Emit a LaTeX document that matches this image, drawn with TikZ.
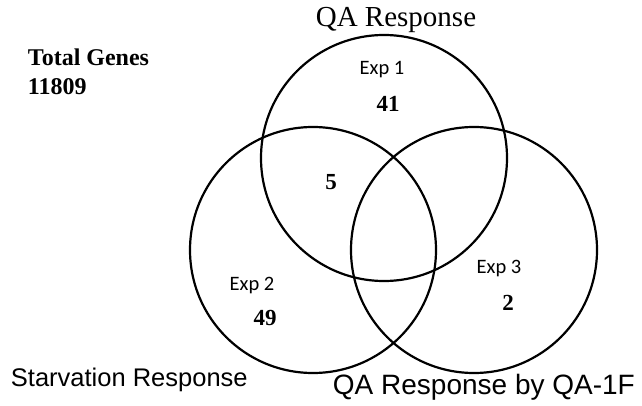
\documentclass[tikz,border=0pt]{standalone}
\usepackage{fontspec}
\setmainfont{Liberation Serif}
\setsansfont{Liberation Sans}
\newfontfamily\expfont{Carlito}
\usepackage{tikz}

\tikzset{
  venn/.style={draw=black, line width=2.2pt},
  count/.style={inner sep=0.75pt, font=\fontsize{23}{25}\selectfont\bfseries},
  explabel/.style={inner sep=0.75pt, font=\fontsize{20.5}{22}\selectfont\expfont},
  setlabel/.style={inner sep=0.75pt, font=\fontsize{25.5}{28}\selectfont\sffamily},
  totallabel/.style={anchor=west, inner sep=0.75pt, font=\fontsize{24}{26}\selectfont\bfseries}
}

\begin{document}
\begin{tikzpicture}[x=1pt,y=1pt,yscale=-1,xscale=1]
		\useasboundingbox (0,0) rectangle (642,406);
		
		%Shape: Circle [QA Response]
		\draw [venn] (384,158) circle [radius=123];
		%Shape: Circle [Starvation Response]
		\draw [venn] (313,250) circle [radius=123];
		%Shape: Circle [QA Response by QA-1F]
		\draw [venn] (474,250) circle [radius=123];
		
		% Text Node
		\node (total) [totallabel] at (27,57) {Total Genes};
		% Text Node
		\node (totaln) [totallabel] at (27,87) {11809};
		% Text Node
		\node (qa) [inner sep=0.75pt, font=\fontsize{29}{32}\selectfont] at (396,20) {QA Response};
		% Text Node
		\node (starv) [setlabel, anchor=west] at (10,380) {Starvation Response};
		% Text Node
		\node (qaf) [setlabel, anchor=west, font=\fontsize{28}{31}\selectfont\sffamily] at (332,387) {QA Response by QA-1F};
		% Text Node
		\node (exp1) [explabel] at (382,70) {Exp 1};
		% Text Node
		\node (exp2) [explabel] at (252,285) {Exp 2};
		% Text Node
		\node (exp3) [explabel] at (499,268) {Exp 3};
		% Text Node
		\node (n41) [count] at (388,104) {41};
		% Text Node
		\node (n5) [count] at (331,182) {5};
		% Text Node
		\node (n49) [count] at (265,318) {49};
		% Text Node
		\node (n2) [count] at (508,303) {2};
		
\end{tikzpicture}
\end{document}
